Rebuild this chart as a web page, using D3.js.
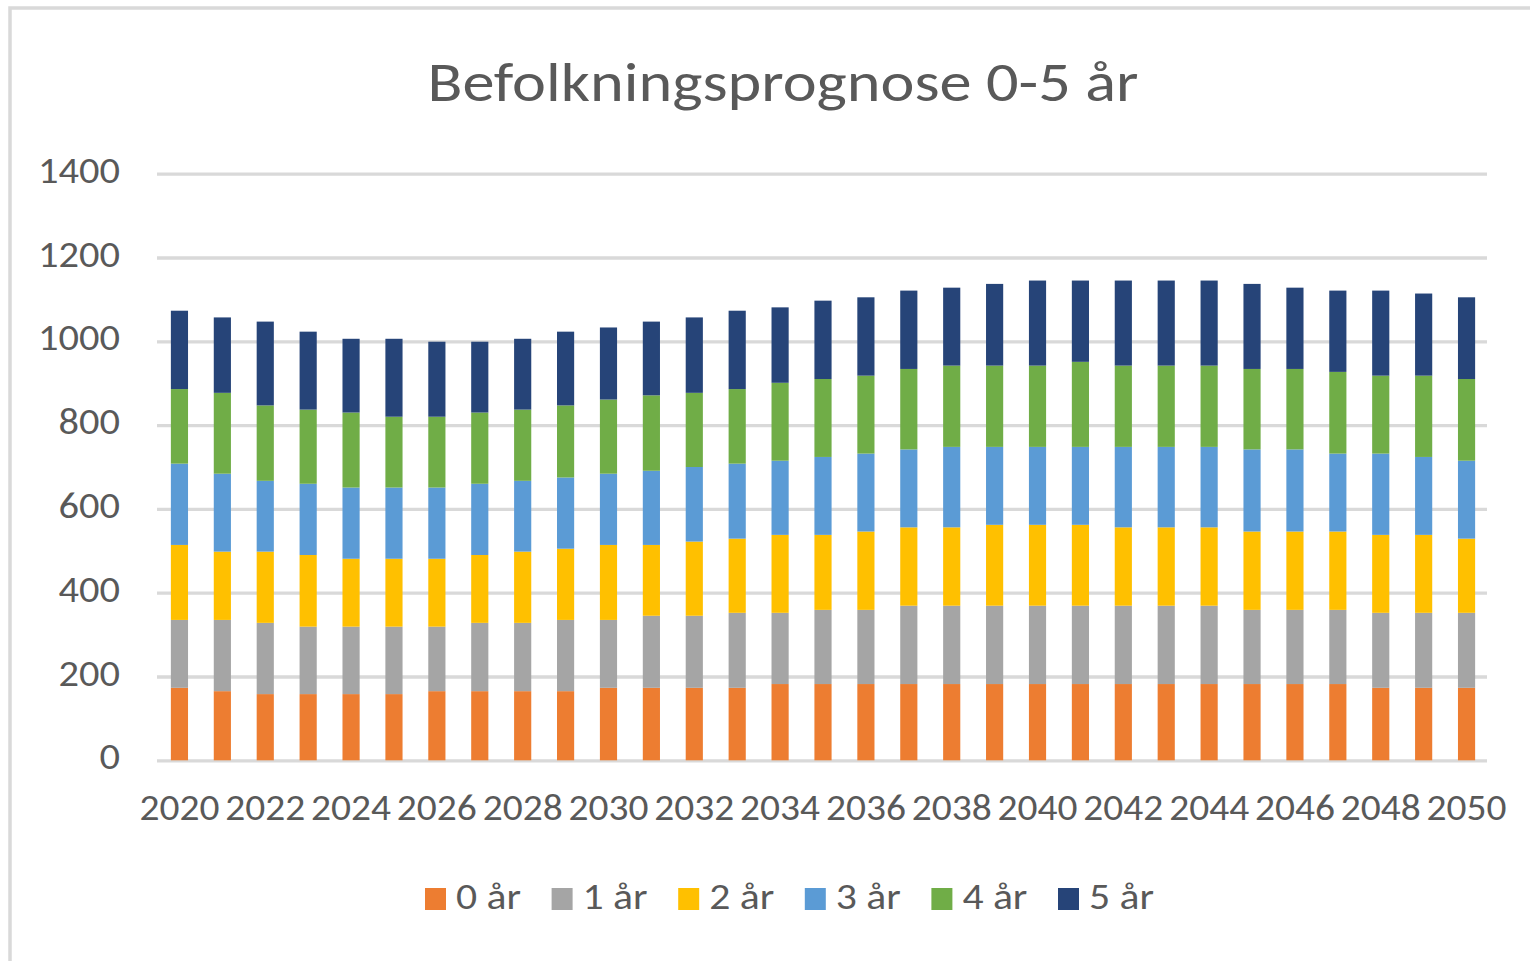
<!DOCTYPE html>
<html>
<head>
<meta charset="utf-8">
<script src="https://cdn.jsdelivr.net/npm/d3@7"></script>
<style>
  html, body { margin: 0; padding: 0; background: #fff; }
  svg { display: block; }
  text { font-family: Carlito, Calibri, Lato, "Open Sans", sans-serif; fill: #595959; }
</style>
</head>
<body>
<svg id="chart" width="1530" height="961"></svg>
<script>
// ---- data ----
const years = d3.range(2020, 2051).map(String);
const seriesNames = ["0 år", "1 år", "2 år", "3 år", "4 år", "5 år"];
const seriesColors = ["#ED7D31", "#A5A5A5", "#FFC000", "#5B9BD5", "#70AD47", "#264478"];

const age0 = [173,165,158,158,158,158,165,165,165,165,173,173,173,173,182,182,182,182,182,182,182,182,182,182,182,182,182,182,173,173,173];
const age1 = [162,170,170,161,161,161,154,163,163,170,162,172,172,179,170,177,177,187,187,187,187,187,187,187,187,177,177,177,179,179,179];
const age2 = [179,163,170,171,162,162,162,162,170,170,179,169,177,177,186,179,187,187,187,193,193,193,187,187,187,187,187,187,186,186,177];
const age3 = [194,186,169,170,170,170,170,170,169,170,170,177,178,179,177,186,186,186,192,186,186,186,192,192,192,196,196,186,194,186,186];
const age4 = [178,193,180,177,179,169,169,170,170,172,177,180,177,178,186,186,186,192,194,194,194,203,194,194,194,192,192,195,186,194,195];
const age5 = [187,180,200,186,176,186,179,169,169,176,172,176,180,187,180,187,187,187,186,195,203,194,203,203,203,203,194,194,203,196,195];

const yTicks = [0, 200, 400, 600, 800, 1000, 1200, 1400];
const xTickLabels = years.filter((d, i) => i % 2 === 0);
const titleText = "Befolkningsprognose 0-5 år";

// ---- build table ----
const seriesValues = [age0, age1, age2, age3, age4, age5];
const table = years.map((yr, i) => {
  const row = { year: yr };
  seriesNames.forEach((s, k) => { row[s] = seriesValues[k][i]; });
  return row;
});
const stacked = d3.stack().keys(seriesNames)(table);

// ---- layout ----
const svg = d3.select("#chart");
const plotLeft = 157, plotRight = 1487, plotTop = 173.7, plotBottom = 760.3;

svg.append("rect")
  .attr("x", 10).attr("y", 8)
  .attr("width", 1600).attr("height", 1000)
  .attr("fill", "#fff")
  .attr("stroke", "#D9D9D9").attr("stroke-width", 3.5);

const x = d3.scaleBand().domain(years).range([plotLeft + 1, plotRight + 1])
  .paddingInner(0.6).paddingOuter(0.3);
const y = d3.scaleLinear().domain([0, 1400]).range([plotBottom, plotTop]);

// gridlines + y labels
const yAxis = svg.append("g")
  .attr("transform", `translate(${plotLeft},0)`)
  .call(d3.axisLeft(y).tickValues(yTicks).tickFormat(d3.format("d"))
    .tickSize(-(plotRight - plotLeft)).tickPadding(37));
yAxis.select(".domain").remove();
yAxis.selectAll(".tick line").attr("stroke", "#D9D9D9").attr("stroke-width", 3.3);
yAxis.selectAll(".tick text")
  .attr("dy", "8.5")
  .style("font-size", "36px")
  .attr("fill", "#595959")
  .attr("textLength", d => String(d).length * 20.5)
  .attr("lengthAdjust", "spacingAndGlyphs");

// bars
svg.append("g").selectAll("g")
  .data(stacked)
  .join("g")
  .attr("fill", (d, i) => seriesColors[i])
  .selectAll("rect")
  .data(d => d)
  .join("rect")
  .attr("x", d => x(d.data.year))
  .attr("width", x.bandwidth())
  .attr("y", d => y(d[1]))
  .attr("height", d => y(d[0]) - y(d[1]));

// x axis labels
const xAxis = svg.append("g")
  .attr("transform", `translate(0,${plotBottom})`)
  .call(d3.axisBottom(x).tickValues(xTickLabels).tickSize(0));
xAxis.select(".domain").remove();
xAxis.selectAll(".tick text")
  .attr("y", 60).attr("dy", "0")
  .style("font-size", "36px")
  .attr("fill", "#595959")
  .attr("textLength", 80)
  .attr("lengthAdjust", "spacingAndGlyphs");

// title
svg.append("text")
  .attr("x", 783).attr("y", 101)
  .attr("text-anchor", "middle")
  .style("font-size", "56px")
  .attr("textLength", 711)
  .attr("lengthAdjust", "spacingAndGlyphs")
  .text(titleText);

// legend
const legend = svg.append("g");
const legendItems = legend.selectAll("g")
  .data(seriesNames)
  .join("g")
  .attr("transform", (d, i) => `translate(${425 + i * 126.6},888)`);
legendItems.append("rect")
  .attr("width", 21).attr("height", 22)
  .attr("fill", (d, i) => seriesColors[i]);
legendItems.append("text")
  .attr("x", 31).attr("y", 20.5)
  .style("font-size", "36px")
  .attr("textLength", 65)
  .attr("lengthAdjust", "spacingAndGlyphs")
  .text(d => d);
</script>
</body>
</html>
